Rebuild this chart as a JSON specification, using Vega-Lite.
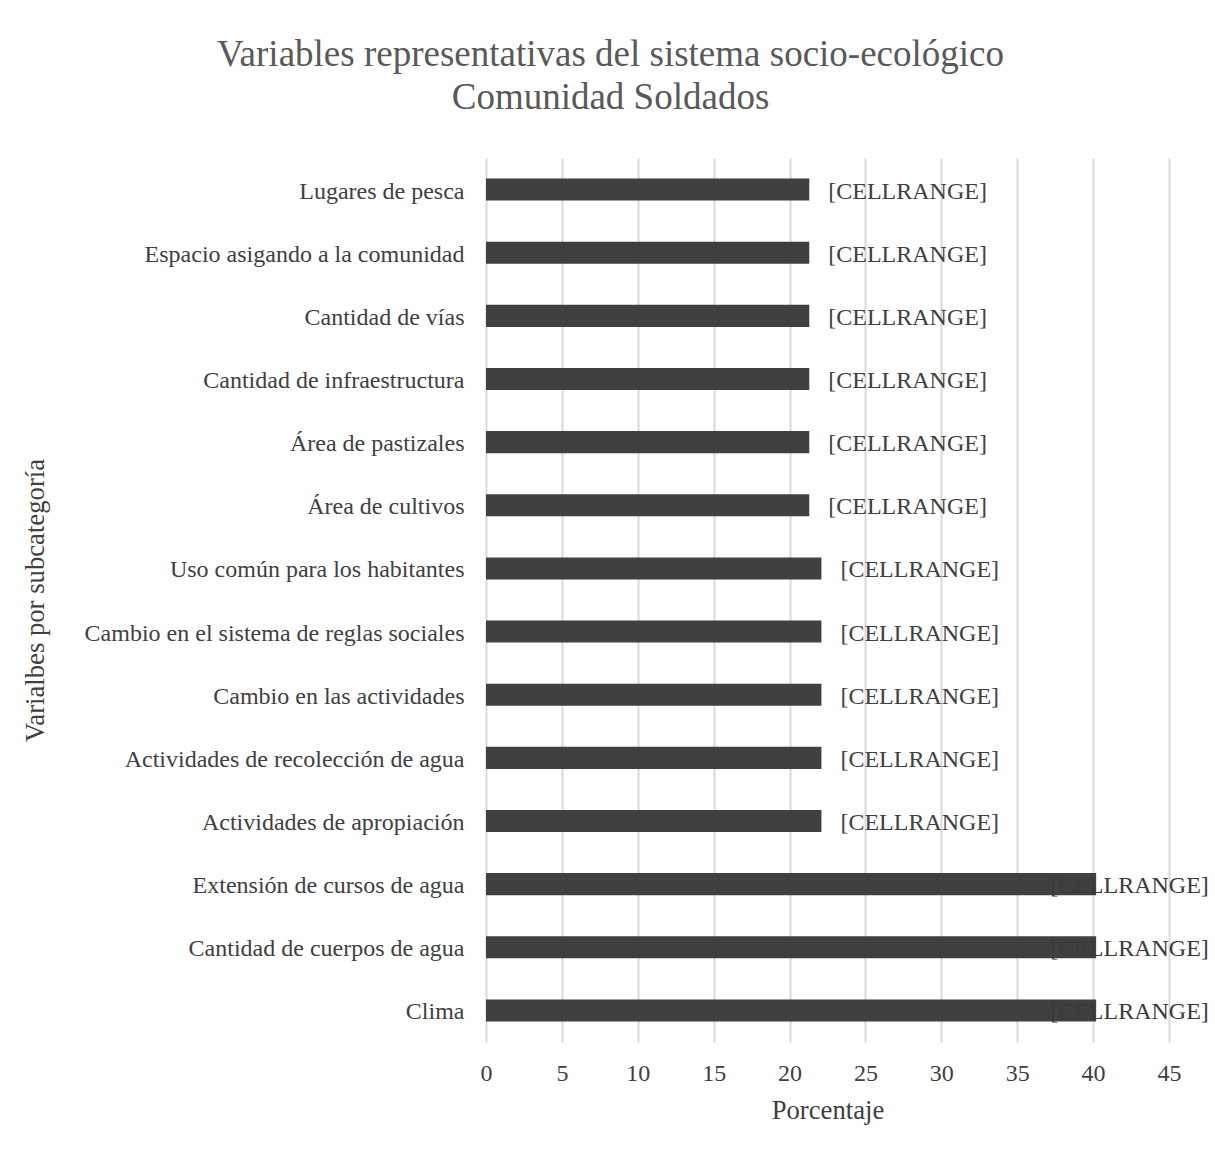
{
  "$schema": "https://vega.github.io/schema/vega-lite/v6.json",
  "width": 683,
  "height": 884,
  "autosize": {"type": "none"},
  "padding": {"left": 486, "top": 158, "right": 46, "bottom": 123},
  "background": "white",
  "title": {
    "text": ["Variables representativas del sistema socio-ecológico", "Comunidad Soldados"],
    "font": "Liberation Serif",
    "fontSize": 37,
    "fontWeight": "normal",
    "color": "#595959",
    "lineHeight": 43,
    "anchor": "middle",
    "dx": -217,
    "offset": 41
  },
  "data": {
    "values": [
      {"variable": "Lugares de pesca", "porcentaje": 21.3, "etiqueta": "[CELLRANGE]"},
      {"variable": "Espacio asigando a la comunidad", "porcentaje": 21.3, "etiqueta": "[CELLRANGE]"},
      {"variable": "Cantidad de vías", "porcentaje": 21.3, "etiqueta": "[CELLRANGE]"},
      {"variable": "Cantidad de infraestructura", "porcentaje": 21.3, "etiqueta": "[CELLRANGE]"},
      {"variable": "Área de pastizales", "porcentaje": 21.3, "etiqueta": "[CELLRANGE]"},
      {"variable": "Área de cultivos", "porcentaje": 21.3, "etiqueta": "[CELLRANGE]"},
      {"variable": "Uso común para los habitantes", "porcentaje": 22.1, "etiqueta": "[CELLRANGE]"},
      {"variable": "Cambio en el sistema de reglas sociales", "porcentaje": 22.1, "etiqueta": "[CELLRANGE]"},
      {"variable": "Cambio en las actividades", "porcentaje": 22.1, "etiqueta": "[CELLRANGE]"},
      {"variable": "Actividades de recolección de agua", "porcentaje": 22.1, "etiqueta": "[CELLRANGE]"},
      {"variable": "Actividades de apropiación", "porcentaje": 22.1, "etiqueta": "[CELLRANGE]"},
      {"variable": "Extensión de cursos de agua", "porcentaje": 40.2, "etiqueta": "[CELLRANGE]"},
      {"variable": "Cantidad de cuerpos de agua", "porcentaje": 40.2, "etiqueta": "[CELLRANGE]"},
      {"variable": "Clima", "porcentaje": 40.2, "etiqueta": "[CELLRANGE]"}
    ]
  },
  "encoding": {
    "y": {
      "field": "variable",
      "type": "nominal",
      "sort": null,
      "scale": {"paddingInner": 0.65, "paddingOuter": 0.325},
      "axis": {
        "title": "Varialbes por subcategoría",
        "titleFont": "Liberation Serif",
        "titleFontSize": 26.7,
        "titleFontWeight": "normal",
        "titleColor": "#404040",
        "titleX": -451,
        "titleY": 442,
        "titleAngle": -90,
        "titleAlign": "center",
        "titleBaseline": "middle",
        "labelFont": "Liberation Serif",
        "labelFontSize": 24,
        "labelColor": "#404040",
        "labelPadding": 22,
        "labelOffset": 2,
        "labelLimit": 500,
        "ticks": false,
        "domain": false,
        "grid": false
      }
    },
    "x": {
      "field": "porcentaje",
      "type": "quantitative",
      "scale": {"domain": [0, 45], "nice": false},
      "axis": {
        "title": "Porcentaje",
        "titleFont": "Liberation Serif",
        "titleFontSize": 26.7,
        "titleFontWeight": "normal",
        "titleColor": "#404040",
        "titlePadding": 12,
        "labelFont": "Liberation Serif",
        "labelFontSize": 24,
        "labelColor": "#404040",
        "labelPadding": 19,
        "labelFlush": false,
        "values": [0, 5, 10, 15, 20, 25, 30, 35, 40, 45],
        "ticks": false,
        "domain": false,
        "grid": true,
        "gridColor": "#d9d9d9",
        "gridWidth": 2
      }
    }
  },
  "layer": [
    {"mark": {"type": "bar", "color": "#404040"}},
    {
      "transform": [{"filter": "datum.porcentaje < 30"}],
      "mark": {"type": "text", "align": "left", "baseline": "middle", "dx": 19, "dy": 2, "font": "Liberation Serif", "fontSize": 24, "color": "#404040"},
      "encoding": {"text": {"field": "etiqueta"}}
    },
    {
      "transform": [{"filter": "datum.porcentaje >= 30"}],
      "mark": {"type": "text", "align": "left", "baseline": "middle", "dx": -46, "dy": 2, "font": "Liberation Serif", "fontSize": 24, "color": "#3a3a3a"},
      "encoding": {"text": {"field": "etiqueta"}}
    }
  ],
  "config": {"view": {"stroke": null}}
}
